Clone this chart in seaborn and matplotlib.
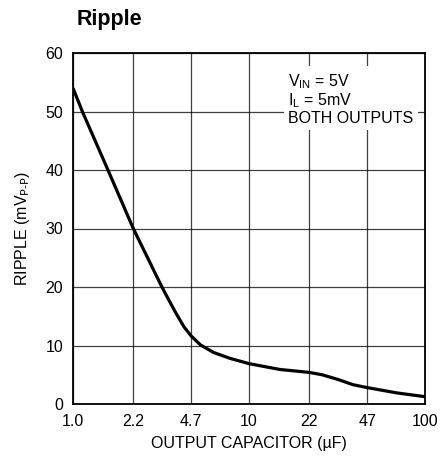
import numpy as np
import pandas as pd
import matplotlib.pyplot as plt
import seaborn as sns

# values
cap_uf = [1.0, 1.13, 1.58, 2.2, 3.2, 3.5, 3.85, 4.27, 4.7, 5.3, 6.3, 7.8, 10, 15, 22, 26, 32, 39, 47, 69, 100]
ripple_mv = [54.0, 50.0, 40.0, 30.0, 20.0, 17.8, 15.5, 13.2, 11.6, 10.1, 8.8, 7.8, 6.9, 5.9, 5.4, 5.0, 4.2, 3.3, 2.8, 1.9, 1.25]

x_ticks = [1.0, 2.2, 4.7, 10, 22, 47, 100]
x_labels = ["1.0", "2.2", "4.7", "10", "22", "47", "100"]
y_ticks = [0, 10, 20, 30, 40, 50, 60]

sns.set_theme(style="white")
plt.rcParams['font.family'] = ['Liberation Sans', 'DejaVu Sans']
plt.rcParams['mathtext.default'] = 'regular'
plt.rcParams['text.color'] = 'black'
plt.rcParams['axes.labelcolor'] = 'black'

df = pd.DataFrame({"cap": cap_uf, "ripple": ripple_mv})

fig = plt.figure(figsize=(4.42, 4.66), dpi=100)
ax = fig.add_axes([73 / 442, 62 / 466, 352 / 442, 351 / 466])

sns.lineplot(data=df, x="cap", y="ripple", color="black", linewidth=2.3, ax=ax, zorder=3,
             solid_joinstyle="round", solid_capstyle="butt")

ax.set_xscale("log")
ax.set_xlim(1.0, 100)
ax.set_ylim(0, 60)
ax.set_xticks(x_ticks)
ax.set_xticklabels(x_labels)
ax.minorticks_off()
ax.set_yticks(y_ticks)

ax.grid(True, color="black", linewidth=0.9, alpha=0.75)
for s in ax.spines.values():
    s.set_color("black")
    s.set_linewidth(1.3)
ax.tick_params(axis="both", length=0, labelsize=11.5, colors="black", pad=7)

ax.set_xlabel("OUTPUT CAPACITOR (µF)", fontsize=11.5, labelpad=5)
ax.set_ylabel(r"RIPPLE (mV$_{\text{P-P}}$)", fontsize=11.5, labelpad=10)

ax.text(0.612, 0.945, "V$_{IN}$ = 5V\nI$_{L}$ = 5mV\nBOTH OUTPUTS", transform=ax.transAxes,
        fontsize=11.5, va="top", ha="left", linespacing=1.05, zorder=4,
        bbox=dict(facecolor="white", edgecolor="none", pad=3))

fig.text(77 / 442, 1 - 20 / 466, "Ripple", fontsize=15.5, fontweight="bold", va="center", ha="left")

fig.savefig("out.png", dpi=100)
